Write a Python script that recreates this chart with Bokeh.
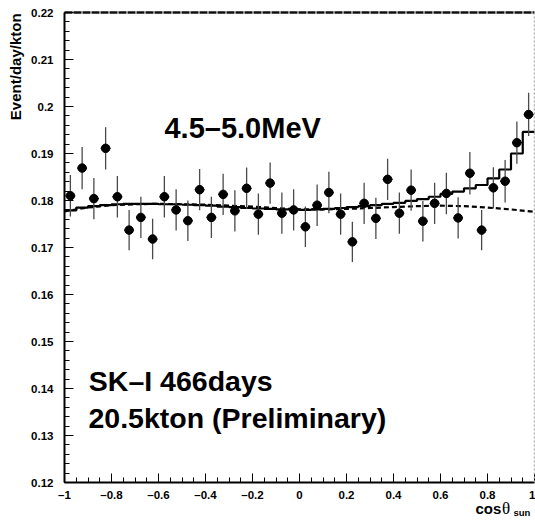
import numpy as np
from bokeh.plotting import figure
from bokeh.models import (Label, SingleIntervalTicker, CustomJSTickFormatter,
                          ColumnDataSource, Range1d, LinearAxis)
from bokeh.embed import file_html
from bokeh.resources import INLINE

# ---- data ----
bin_edges = np.linspace(-1.0, 1.0, 41)
bin_centers = 0.5 * (bin_edges[:-1] + bin_edges[1:])

rate = [0.1810, 0.1869, 0.1804, 0.1911, 0.1808, 0.1737, 0.1764, 0.1718, 0.1808, 0.1780,
        0.1757, 0.1823, 0.1764, 0.1813, 0.1778, 0.1826, 0.1771, 0.1837, 0.1773, 0.1780,
        0.1744, 0.1790, 0.1817, 0.1771, 0.1712, 0.1794, 0.1762, 0.1845, 0.1773, 0.1822,
        0.1756, 0.1794, 0.1815, 0.1763, 0.1858, 0.1737, 0.1827, 0.1841, 0.1923, 0.1983]
rate_err = [0.0044, 0.0045, 0.0044, 0.0045, 0.0044, 0.0043, 0.0044, 0.0043, 0.0044, 0.0044,
            0.0043, 0.0044, 0.0044, 0.0044, 0.0044, 0.0044, 0.0044, 0.0044, 0.0044, 0.0044,
            0.0043, 0.0044, 0.0044, 0.0044, 0.0043, 0.0044, 0.0044, 0.0044, 0.0044, 0.0044,
            0.0043, 0.0044, 0.0044, 0.0044, 0.0045, 0.0043, 0.0044, 0.0045, 0.0045, 0.0046]

# expected (background + signal) histogram per bin
expected = [0.1779, 0.1785, 0.1788, 0.1790, 0.1792, 0.1793, 0.1793, 0.1793, 0.1792, 0.1792,
            0.1791, 0.1790, 0.1789, 0.1787, 0.1786, 0.1784, 0.1783, 0.1782, 0.1781, 0.1781,
            0.1780, 0.1781, 0.1782, 0.1784, 0.1786, 0.1788, 0.1790, 0.1793, 0.1795, 0.1799,
            0.1803, 0.1808, 0.1814, 0.1819, 0.1826, 0.1833, 0.1847, 0.1866, 0.1900, 0.1946]

# background-only curve
bg_cos = [-1.0, -0.9, -0.8, -0.7, -0.6, -0.5, -0.4, -0.3, -0.2, -0.1, 0.0,
          0.1, 0.2, 0.3, 0.4, 0.5, 0.6, 0.7, 0.8, 0.9, 1.0]
bg_rate = [0.1777, 0.1785, 0.1790, 0.1792, 0.1793, 0.1792, 0.1791, 0.1789, 0.1787, 0.1784, 0.1781,
           0.1781, 0.1782, 0.1784, 0.1786, 0.1788, 0.1789, 0.1788, 0.1785, 0.1781, 0.1776]

x_lo, x_hi = -1.0, 1.0
y_lo, y_hi = 0.12, 0.22

W, H = 535, 522
FRAME_L, FRAME_R, FRAME_T, FRAME_B = 64, 534, 12, 482
sx = (FRAME_R - FRAME_L) / (x_hi - x_lo)
sy = (FRAME_B - FRAME_T) / (y_hi - y_lo)

FONT = "Liberation Sans"

# the plotting frame covers the whole canvas; axes are pinned at the data box edges
p = figure(width=W, height=H, output_backend="svg", toolbar_location=None,
           x_axis_type=None, y_axis_type=None,
           x_range=Range1d(x_lo - FRAME_L / sx, x_hi + (W - FRAME_R) / sx),
           y_range=Range1d(y_lo - (H - FRAME_B) / sy, y_hi + FRAME_T / sy),
           min_border=0)
p.grid.visible = False
p.outline_line_color = None
p.background_fill_color = "white"
p.border_fill_color = "white"

xfmt = CustomJSTickFormatter(code="""
const v = Math.round(tick*10)/10;
return (v < 0 ? '\u2013' : '') + String(Math.abs(v));
""")
yfmt = CustomJSTickFormatter(code="""
const v = Math.round(tick*100)/100;
return String(v);
""")


def style_axis(ax, show=True):
    ax.axis_line_width = 2
    ax.axis_line_color = "black"
    ax.major_tick_in = 9 if show else 0
    ax.major_tick_out = 0
    ax.minor_tick_in = 5 if show else 0
    ax.minor_tick_out = 0
    ax.major_tick_line_color = "black" if show else None
    ax.minor_tick_line_color = "black" if show else None
    ax.major_tick_line_width = 1
    ax.minor_tick_line_width = 1
    ax.major_label_text_font = FONT
    ax.major_label_text_font_style = "bold"
    ax.major_label_text_font_size = "11.5px"
    ax.major_label_text_color = "black" if show else None


xaxis = LinearAxis(fixed_location=y_lo, bounds=(x_lo, x_hi),
                   ticker=SingleIntervalTicker(interval=0.2, num_minor_ticks=4),
                   formatter=xfmt)
style_axis(xaxis)
xaxis.major_label_standoff = 6
p.add_layout(xaxis, "below")

yaxis = LinearAxis(fixed_location=x_lo, bounds=(y_lo, y_hi),
                   ticker=SingleIntervalTicker(interval=0.01, num_minor_ticks=5),
                   formatter=yfmt)
style_axis(yaxis)
yaxis.major_label_standoff = 11
p.add_layout(yaxis, "left")

# frame top (dark dashed) and right (light dotted)
top = LinearAxis(fixed_location=y_hi, bounds=(x_lo, x_hi))
style_axis(top, show=False)
top.axis_line_color = "#111111"
top.axis_line_width = 2.5
top.axis_line_dash = "8 1"
p.add_layout(top, "above")

right = LinearAxis(fixed_location=x_hi, bounds=(y_lo, y_hi))
style_axis(right, show=False)
right.axis_line_color = "#aaaaaa"
right.axis_line_width = 1.5
right.axis_line_dash = "2 2"
p.add_layout(right, "right")

# background curve (dashed)
p.line(bg_cos, bg_rate, line_color="black", line_width=2.2, line_dash="5 3")

# expected histogram (solid step)
step_x = list(bin_edges[:-1]) + [bin_edges[-1]]
step_y = list(expected) + [expected[-1]]
p.step(step_x, step_y, mode="after", line_color="black", line_width=2.2)

# data points with error bars
src = ColumnDataSource(dict(
    x=bin_centers, y=rate,
    ylo=np.array(rate) - np.array(rate_err), yhi=np.array(rate) + np.array(rate_err),
    xlo=bin_centers - 0.021, xhi=bin_centers + 0.021))
p.segment(x0="x", y0="ylo", x1="x", y1="yhi", source=src, line_color="#4a4a4a", line_width=1.3)
p.segment(x0="xlo", y0="y", x1="xhi", y1="y", source=src, line_color="black", line_width=1.3)
p.scatter("x", "y", source=src, size=8.5, marker="circle", fill_color="black", line_color="black")


# texts
def lab(x, y, text, size, style="bold", font=FONT, **kw):
    p.add_layout(Label(x=x, y=y, text=text, text_font=font, text_font_size=size,
                       text_font_style=style, text_color="black", **kw))


lab(-0.5745, 0.19532, "4.5\u20135.0MeV", "29px", text_baseline="alphabetic")
lab(-0.8966, 0.14170, "SK\u2013I 466days", "28.5px", text_baseline="alphabetic")
lab(-0.8979, 0.13374, "20.5kton (Preliminary)", "28.5px", text_baseline="alphabetic")

# y axis title (top-aligned, rotated)
lab(-1.2085, 0.2198, "Event/day/kton", "15px", angle=np.pi / 2,
    text_align="right", text_baseline="middle")

# x axis title: cos theta_sun
lab(0.7489, 0.11447, "cos", "15px", text_baseline="alphabetic")
lab(0.8617, 0.11447, "\u03b8", "17px", style="normal", font="Liberation Serif",
    text_baseline="alphabetic")
lab(0.9106, 0.11372, "sun", "9.5px", text_baseline="alphabetic")

open("out.html", "w").write(file_html(p, INLINE))
